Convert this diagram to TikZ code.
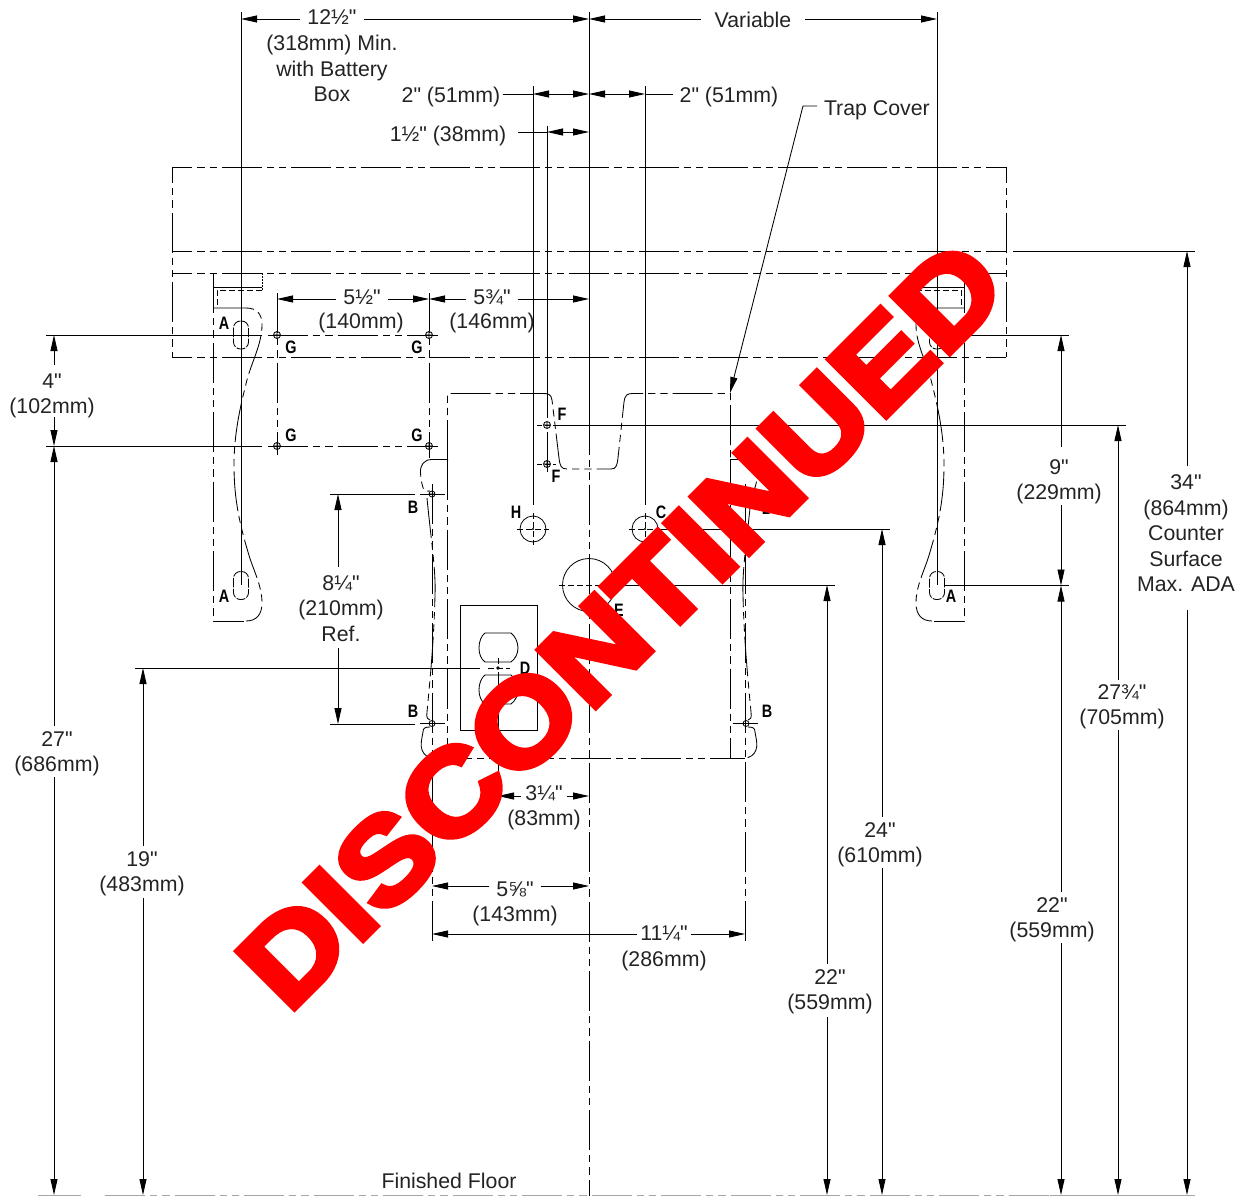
\documentclass[tikz,border=0pt]{standalone}
\usepackage{fontspec}
\setmainfont{Liberation Sans}[Ligatures=TeXOff]
\newfontfamily\stampfont{Liberation Sans Bold}[FakeBold=5,FakeStretch=1.14,Ligatures=TeXOff]
\usetikzlibrary{arrows.meta}
\definecolor{ink}{RGB}{35,35,35}
\tikzset{
  ln/.style={line width=0.85pt,color=black},
  ext/.style={ln},
  chain/.style={ln,dash pattern=on 40pt off 5pt on 7.25pt off 5pt on 7.25pt off 5pt},
  longd/.style={chain,dash phase=19.7pt},
  shortd/.style={ln,dash pattern=on 6pt off 3pt},
  dim/.style={ln,-{Triangle[length=16pt,width=7pt]}},
  dimb/.style={ln,{Triangle[length=16pt,width=7pt]}-{Triangle[length=16pt,width=7pt]}},
  lbl/.style={font=\fontsize{21.3}{25.5}\selectfont,text=ink,align=center,inner sep=0pt,outer sep=7pt},
  lblh/.style={lbl,outer sep=7pt},
  tag/.style={font=\fontsize{18}{18}\bfseries\selectfont,text=black,inner sep=0pt,xscale=0.8},
  hole/.style={ln,line width=0.8pt},
  stamp/.style={font=\fontsize{118}{118}\stampfont,text=red,inner sep=0pt,rotate=45,anchor=base west}
}
\newcommand{\hplus}[2]{\draw[hole] (#1,#2) circle (3.5) (#1-3.5,#2) -- (#1+3.5,#2) (#1,#2-3.5) -- (#1,#2+3.5);}
\newcommand{\slotp}[2]{\draw[ln,dash pattern=on 9pt off 1.5pt,rounded corners=6.9pt] (#1-7.5,#2-14) rectangle (#1+7.5,#2+14);}
\begin{document}
\begin{tikzpicture}[x=1pt,y=-1pt]
\useasboundingbox (0,0) rectangle (1242,1196);
% named anchor coordinates
\coordinate (xTL) at (241,19); \coordinate (xTC) at (589,19); \coordinate (xTR) at (937,19);
\coordinate (a2L) at (533,94); \coordinate (a2C) at (589,94); \coordinate (a2R) at (645,94);
\coordinate (a15) at (547,132); \coordinate (a15C) at (589,132);
\coordinate (s1) at (277,299); \coordinate (s2) at (429,299); \coordinate (s3) at (589,299);
\coordinate (h31) at (498,796); \coordinate (h32) at (589,796);
\coordinate (h51) at (432,886); \coordinate (h52) at (589,886);
\coordinate (h111) at (432,934); \coordinate (h112) at (745,934);
\coordinate (fa) at (54,1195); \coordinate (fb) at (143,1195); \coordinate (fc) at (827,1195);
\coordinate (fd) at (882,1195); \coordinate (fe) at (1061,1195); \coordinate (ff) at (1118,1195); \coordinate (fg) at (1187,1195);

% counter outline
\draw[longd] (172,167) -- (1006,167);
\draw[longd] (172,357) -- (1006,357);
\draw[chain,dash phase=24pt] (172,167) -- (172,357);
\draw[chain,dash phase=24pt] (1006,167) -- (1006,357);
\draw[longd] (172,251) -- (1006,251);
\draw[longd] (172,273) -- (1006,273);
\draw[ln] (1013,251) -- (1195,251);
% floor
\draw[line width=1pt,color=black!35,dash pattern=on 40pt off 5pt on 7.25pt off 5pt on 7.25pt off 5pt] (105,1195.5) -- (1060,1195.5);
\draw[line width=1pt,color=black!35] (1050,1195.5) -- (1195,1195.5);
\draw[line width=1pt,color=black!35] (38,1195.5) -- (81,1195.5);

% vertical extension lines
\draw[ext] (241,12) -- (241,585);
\draw[ext] (937,12) -- (937,585);
\draw[ext] (589,12) -- (589,455);
\draw[chain] (589,415.2) -- (589,1196);
\draw[ext] (533,86) -- (533,505);
\draw[ext] (547,126) -- (547,418);
\draw[ext] (645,86) -- (645,505);
\draw[chain] (547,432) -- (547,474);
\draw[chain] (277,293) -- (277,455);
\draw[chain] (429,293) -- (429,458);
\draw[chain] (432,484) -- (432,942);
\draw[chain] (745,484) -- (745,942);
\draw[chain] (447.5,460) -- (447.5,758);
\draw[chain] (730.5,460) -- (730.5,758);

% left and right wall plates
\foreach \sc/\sh in {1/0,-1/1178}{
\begin{scope}[xshift=\sh pt,xscale=\sc]
  \draw[chain] (213.5,273) -- (213.5,621) -- (244,621);
  \draw[ln,dash pattern=on 2pt off 1pt] (262,273) -- (262,290);
  \draw[ln] (213.5,287) -- (262,287);
  \draw[shortd] (262,290) -- (217,290) -- (217,308);
  \draw[chain] (214,308) -- (246,308) .. controls (257,308) and (262,314) .. (262,325)
     .. controls (262,345) and (250,365) .. (246,384) .. controls (238,415) and (234,440) .. (234,465)
     .. controls (234,500) and (240,525) .. (248,552) .. controls (253,570) and (262,585) .. (262,603)
     .. controls (262,615) and (256,621) .. (246,621);
  \slotp{241}{335}
  \slotp{241}{585.5}
  % side profile of cabinet
  \draw[chain] (448,459.5) -- (432,459.5) .. controls (424,459.5) and (420,465) .. (420.5,473)
     .. controls (421,480) and (422,486) .. (424,490) .. controls (425,492) and (428,491) .. (430,491);
  \draw[chain] (427,498) .. controls (431,540) and (436,570) .. (435,595) .. controls (434,640) and (430,680) .. (427,712)
     .. controls (426,718) and (428,720) .. (430,720);
  \draw[chain] (430,727) .. controls (425,727) and (423,728) .. (423,732)
     .. controls (422,738) and (420,745) .. (422,750) .. controls (424,755) and (428,758) .. (434,758);
  \draw[hole] (432,494) circle (3) (429,494) -- (435,494);
  \draw[hole] (432,723.5) circle (3) (429,723.5) -- (435,723.5);
  \draw[chain] (420,494) -- (445,494);
  \draw[chain] (420,723.5) -- (445,723.5);
\end{scope}}

% basin outline
\draw[chain] (447.5,460) -- (447.5,393.5) -- (543,393.5) .. controls (548,393.5) and (551,394) .. (552,400)
   -- (559,458) .. controls (560,466) and (561,469) .. (567,469) -- (611,469)
   .. controls (616,469) and (617,466) .. (618,458) -- (624,402)
   .. controls (625,395) and (627,393.5) .. (633,393.5) -- (730.5,393.5) -- (730.5,460);
\draw[chain] (432,758) -- (745,758);

% G holes + centre lines
\hplus{277}{335} \hplus{429}{335} \hplus{277}{446} \hplus{429}{446}
\draw[ln] (46,335) -- (262,335); \draw[chain] (268,335) -- (438,335);
\draw[ln] (46,446) -- (262,446); \draw[chain] (268,446) -- (438,446);
% F holes
\hplus{547}{425} \hplus{547}{464}
\draw[ln,dash pattern=on 5pt off 3pt] (537,425) -- (556,425); \draw[ln] (556,425) -- (1126,425);
\draw[ln,dash pattern=on 5pt off 3pt] (537,464) -- (556,464);
% H, C, E
\draw[hole] (533,529) circle (13); \fill (533,529) circle (1.2);
\draw[hole] (645,529) circle (13); \fill (645,529) circle (1.2);
\draw[hole] (589,585) circle (26.5);
\draw[shortd] (517,529) -- (549,529); \draw[shortd] (533,513) -- (533,545);
\draw[shortd] (629,529) -- (661,529); \draw[shortd] (645,513) -- (645,545);
\draw[ln] (661,529) -- (890,529);
\draw[shortd] (559,585) -- (614,585); \draw[ln] (614,585) -- (835,585);
% outlet
\draw[ln] (460,605.5) rectangle (537,730);
\draw[ln] (485,633) -- (511,633) .. controls (515,636) and (518,642) .. (518,648) .. controls (518,654) and (515,659) .. (511,662) -- (485,662) .. controls (481,659) and (479,654) .. (479,648) .. controls (479,642) and (481,636) .. (485,633) -- cycle;
\draw[ln] (485,675) -- (511,675) .. controls (515,678) and (518,684) .. (518,690) .. controls (518,696) and (515,701) .. (511,704) -- (485,704) .. controls (481,701) and (479,696) .. (479,690) .. controls (479,684) and (481,678) .. (485,675) -- cycle;
\fill (498,668) circle (1.8);
\draw[ln] (135,668) -- (480,668); \draw[shortd] (488,668) -- (510,668);
\draw[ln] (498,658) -- (498,664); \draw[ln] (498,672) -- (498,804);
% other extension lines
\draw[ln] (330,494) -- (415,494);
\draw[ln] (330,724) -- (415,724);
\draw[ln] (945,335) -- (1069,335);
\draw[ln] (945,585.5) -- (1069,585.5);

% top dimensions
\node[lblh] (t12) at (332,17) {12½"};
\node[lbl,outer sep=0pt] (t12b) at (332,68.5) {(318mm) Min.\\with Battery\\Box};
\draw[dim] (t12.west |- xTL) -- (xTL); \draw[dim] (t12.east |- xTC) -- (xTC);
\node[lblh,outer sep=14pt] (tvar) at (753,20) {Variable};
\draw[dim] (tvar.west |- xTC) -- (xTC); \draw[dim] (tvar.east |- xTR) -- (xTR);
\node[lbl,outer sep=3pt] (t2l) at (451,97) {2" (51mm)};
\draw[ln] (t2l.east |- a2L) -- (a2L);
\draw[dimb] (a2L) -- (a2C);
\node[lbl,outer sep=7pt] (t2r) at (729,97) {2" (51mm)};
\draw[ln] (t2r.west |- a2R) -- (a2R);
\draw[dimb] (a2C) -- (a2R);
\node[lbl,outer sep=12pt] (t15) at (448,136) {1½" (38mm)};
\draw[ln] (t15.east |- a15) -- (a15);
\draw[dimb] (a15) -- (a15C);
\node[lbl,anchor=west,outer sep=0pt] (ttrap) at (824,110) {Trap Cover};
\coordinate (trapk) at (803,106);\coordinate (trapt) at (730,393);\coordinate (trapa) at (817,106);
\draw[dim] (trapa) -- (trapk) -- (trapt);

% 5 1/2, 5 3/4
\node[lblh] (t55) at (362,297) {5½"};
\node[lbl,outer sep=0pt] (t55b) at (361,323) {(140mm)};
\draw[dim] (t55.west |- s1) -- (s1); \draw[dim] (t55.east |- s2) -- (s2);
\node[lblh] (t57) at (492,297) {5¾"};
\node[lbl,outer sep=0pt] (t57b) at (492,323) {(146mm)};
\draw[dim] (t57.west |- s2) -- (s2); \draw[dim] (t57.east |- s3) -- (s3);

% lower horizontal dims
\node[lbl,outer sep=4pt] (t31) at (544,793) {3¼"};
\node[lbl,outer sep=0pt] (t31b) at (544,820) {(83mm)};
\draw[dim] (t31.west |- h31) -- (h31); \draw[dim] (t31.east |- h32) -- (h32);
\node[lblh] (t56) at (515,889) {5⅝"};
\node[lbl,outer sep=0pt] (t56b) at (515,916) {(143mm)};
\draw[dim] (t56.west |- h51) -- (h51); \draw[dim] (t56.east |- h52) -- (h52);
\node[lbl,outer sep=3pt] (t11) at (664,933) {11¼"};
\node[lbl,outer sep=0pt] (t11b) at (664,961) {(286mm)};
\draw[dim] (t11.west |- h111) -- (h111); \draw[dim] (t11.east |- h112) -- (h112);

% vertical dims
\coordinate (v41) at (54,335); \coordinate (v42) at (54,446);
\node[lbl] (t4) at (52,396) {4"\\(102mm)};
\draw[dim] (54,365) -- (v41); \draw[dim] (54,417) -- (v42);
\node[lbl] (t27) at (57,754) {27"\\(686mm)};
\draw[dim] (54,726) -- (v42); \draw[dim] (54,777) -- (fa);
\coordinate (v81) at (338,494); \coordinate (v82) at (338,724);
\node[lbl] (t8) at (341,608.5) {8¼"\\(210mm)\\Ref.};
\draw[dim] (338,567) -- (v81); \draw[dim] (338,648) -- (v82);
\coordinate (v19) at (143,668);
\node[lbl] (t19) at (142,874) {19"\\(483mm)};
\draw[dim] (143,846) -- (v19); \draw[dim] (143,898) -- (fb);
\coordinate (v22a) at (827,585); 
\node[lbl] (t22a) at (830,992) {22"\\(559mm)};
\draw[dim] (827,964) -- (v22a); \draw[dim] (827,1017) -- (fc);
\coordinate (v24) at (882,529);
\node[lbl] (t24) at (880,845) {24"\\(610mm)};
\draw[dim] (882,817) -- (v24); \draw[dim] (882,868) -- (fd);
\coordinate (v91) at (1061,335); \coordinate (v92) at (1061,585.5);
\node[lbl] (t9) at (1059,482) {9"\\(229mm)};
\draw[dim] (1061,447) -- (v91); \draw[dim] (1061,505) -- (v92);
\node[lbl] (t22b) at (1052,920) {22"\\(559mm)};
\draw[dim] (1061,892) -- (v92); \draw[dim] (1061,943) -- (fe);
\coordinate (v27) at (1118,425);
\node[lbl] (t27b) at (1122,707) {27¾"\\(705mm)};
\draw[dim] (1118,680) -- (v27); \draw[dim] (1118,730) -- (ff);
\coordinate (v34) at (1187,251);
\node[lbl] (t34) at (1186,533.5) {34"\\(864mm)\\Counter\\Surface\\Max. ADA};
\draw[dim] (1187,466) -- (v34); \draw[dim] (1187,610) -- (fg);

\node[lbl,outer sep=0pt] (tfloor) at (449,1181) {Finished Floor};

% letter tags
\node[tag] (la1) at (224,323) {A}; \node[tag] (la2) at (224,596) {A}; \node[tag] (la3) at (951,596) {A};
\node[tag] (lg1) at (291,347) {G}; \node[tag] (lg2) at (417,347) {G}; \node[tag] (lg3) at (291,435) {G}; \node[tag] (lg4) at (417,435) {G};
\node[tag] (lb1) at (413,507) {B}; \node[tag] (lb2) at (413,711) {B}; \node[tag] (lb3) at (767,711) {B}; \node[tag] (lb4) at (767,508) {B};
\node[tag] (lf1) at (562,414) {F}; \node[tag] (lf2) at (556,476) {F};
\node[tag] (lh) at (516,512) {H}; \node[tag] (lc) at (661,512) {C}; \node[tag] (le) at (619,610) {E}; \node[tag] (ld) at (525,668) {D};

% stamp
\node[stamp] (stampn) at (288,1015) {DISCONTINUED};
\end{tikzpicture}
\end{document}
